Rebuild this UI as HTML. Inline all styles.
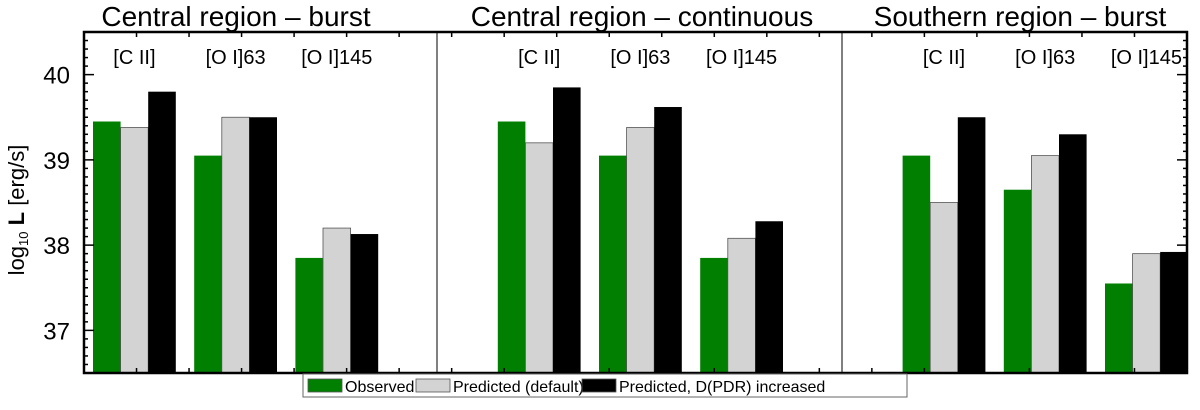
<!DOCTYPE html>
<html><head><meta charset="utf-8"><style>
body{margin:0;background:#fff;}
svg text{font-family:"Liberation Sans",sans-serif;}
</style></head><body>
<svg id="c" width="1200" height="405" xmlns="http://www.w3.org/2000/svg">
</svg>
<script>
const panels=["Central region – burst","Central region – continuous","Southern region – burst"];
const lines=["[C II]","[O I]63","[O I]145"];
const observed=[39.45,39.05,37.85, 39.45,39.05,37.85, 39.05,38.65,37.55];
const predDefault=[39.38,39.5,38.2, 39.2,39.38,38.08, 38.5,39.05,37.9];
const predIncreased=[39.8,39.5,38.13, 39.85,39.62,38.28, 39.5,39.3,37.92];
const yTicks=[37,38,39,40];
const NS="http://www.w3.org/2000/svg";
const svg=document.getElementById('c');
const L=84,R=1187,T=32,B=373,Y0=36.5,Y1=40.5;
const y=v=>B-(v-Y0)/(Y1-Y0)*(B-T);
const slot=101.2, x0=93, bw=27.6;
const gx=i=>x0+(Math.floor(i/3)*4+i%3)*slot;
function mk(t,a,p){const e=document.createElementNS(NS,t);for(const k in a)e.setAttribute(k,a[k]);(p||svg).appendChild(e);return e;}
const series=[[observed,"#007f00","observed"],[predDefault,"#d3d3d3","predicted-default"],[predIncreased,"#000","predicted-increased"]];
series.forEach((s,si)=>{s[0].forEach((v,i)=>{
 const r=mk('rect',{x:gx(i)+si*bw,y:y(v),width:bw,height:B-y(v),fill:s[1],stroke:si==1?'#555':'none','stroke-width':si==1?0.8:0});
 
 
});});
for(let i=0;i<9;i++){const t=mk('text',{x:gx(i)+bw*1.5,y:64,'font-size':20,'text-anchor':'middle'});t.textContent=lines[i%3];
 }
const f=mk('rect',{x:L,y:T,width:R-L,height:B-T,fill:'none',stroke:'#000','stroke-width':2.5});

[437,842].forEach(px=>{const l=mk('line',{x1:px,x2:px,y1:T,y2:B,stroke:'#000','stroke-width':1});
 });
for(let v=36.6;v<40.5;v+=0.1){const yy=y(v);const maj=Math.abs(v-Math.round(v))<0.01;
 mk('line',{x1:L,x2:L+(maj?10:4),y1:yy,y2:yy,stroke:'#000','stroke-width':1.5});
 mk('line',{x1:R,x2:R-(maj?10:4),y1:yy,y2:yy,stroke:'#000','stroke-width':1.5});}
yTicks.forEach(v=>{const t=mk('text',{x:70,y:y(v)+9,'font-size':24,'text-anchor':'end'});t.textContent=v;
 });
for(let k=0;k<=21;k++){const px=L+k*(R-L)/21;
 mk('line',{x1:px,x2:px,y1:B,y2:B-5,stroke:'#000','stroke-width':1.5});
 mk('line',{x1:px,x2:px,y1:T,y2:T+5,stroke:'#000','stroke-width':1.5});}
[[236,panels[0]],[642,panels[1]],[1020,panels[2]]].forEach(p=>{const t=mk('text',{x:p[0],y:26,'font-size':28,'text-anchor':'middle'});t.textContent=p[1];
 });
const yt=mk('text',{transform:'translate(24,210) rotate(-90)','font-size':22,'text-anchor':'middle'});
yt.innerHTML='log<tspan font-size="13" dy="4">10</tspan><tspan dy="-4" font-weight="bold"> L</tspan>  [erg/s]';

const lg=mk('g',{});
mk('rect',{x:303,y:374,width:604,height:23,fill:'#fff',stroke:'#666','stroke-width':1},lg);
const ent=[[308,"#007f00","Observed"],[416,"#d3d3d3","Predicted (default)"],[582,"#000","Predicted, D(PDR) increased"]];
ent.forEach(e=>{mk('rect',{x:e[0],y:379,width:34,height:13,fill:e[1],stroke:'#555','stroke-width':0.8},lg);
 const t=mk('text',{x:e[0]+37,y:392,'font-size':16},lg);t.textContent=e[2];
 });
</script>
</body></html>
